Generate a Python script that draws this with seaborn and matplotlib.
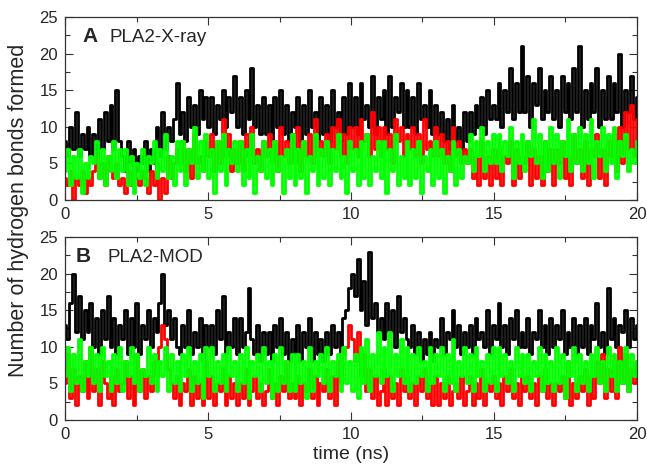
import numpy as np
import pandas as pd
import matplotlib
matplotlib.use("Agg")
import matplotlib.pyplot as plt
from matplotlib.ticker import MultipleLocator
import seaborn as sns

# hydrogen-bond counts, one value every 0.1 ns (10 per row = 1 ns)
xray_black = [
    8, 6, 10, 7, 12, 6, 9, 7, 10, 6,
    9, 6, 11, 7, 12, 8, 13, 7, 15, 8,
    6, 4, 8, 5, 7, 4, 6, 5, 8, 4,
    7, 5, 10, 6, 12, 7, 10, 8, 11, 16,
    9, 12, 8, 14, 10, 13, 9, 15, 11, 14,
    10, 14, 9, 13, 11, 15, 10, 14, 12, 17,
    10, 14, 9, 15, 11, 18, 10, 13, 9, 14,
    9, 13, 8, 14, 10, 15, 9, 13, 8, 12,
    10, 14, 8, 13, 9, 15, 10, 12, 8, 14,
    9, 13, 8, 15, 10, 12, 8, 14, 9, 16,
    10, 14, 9, 16, 11, 13, 10, 17, 9, 14,
    11, 15, 9, 17, 10, 14, 12, 16, 10, 15,
    10, 14, 9, 16, 11, 13, 10, 15, 9, 13,
    9, 12, 8, 11, 7, 13, 8, 10, 7, 12,
    8, 12, 9, 13, 10, 14, 9, 15, 11, 13,
    11, 16, 10, 15, 12, 18, 11, 16, 12, 21,
    12, 17, 10, 16, 13, 18, 11, 15, 12, 17,
    11, 15, 10, 17, 12, 16, 11, 18, 12, 21,
    10, 15, 11, 16, 12, 18, 10, 15, 11, 17,
    11, 16, 12, 20, 10, 15, 12, 17, 11, 14,
]
xray_red = [
    3, 2, 4, 0, 3, 2, 4, 1, 3, 2,
    4, 6, 3, 5, 2, 6, 4, 3, 5, 2,
    3, 1, 4, 2, 5, 3, 2, 4, 3, 1,
    4, 2, 5, 0, 3, 1, 6, 3, 5, 7,
    5, 8, 4, 7, 3, 9, 5, 6, 4, 8,
    6, 9, 4, 8, 5, 11, 6, 9, 4, 7,
    5, 8, 4, 9, 6, 10, 5, 7, 4, 8,
    6, 9, 5, 8, 4, 10, 6, 8, 5, 9,
    5, 10, 4, 8, 6, 9, 5, 11, 6, 8,
    6, 9, 5, 10, 7, 11, 6, 9, 5, 10,
    7, 10, 6, 11, 8, 9, 6, 12, 7, 10,
    6, 10, 7, 9, 5, 11, 8, 10, 6, 9,
    7, 10, 6, 9, 5, 11, 7, 8, 6, 10,
    6, 9, 5, 8, 4, 10, 6, 8, 5, 7,
    5, 7, 3, 6, 2, 8, 3, 6, 2, 7,
    3, 7, 2, 6, 5, 8, 2, 7, 3, 6,
    5, 8, 2, 7, 3, 6, 2, 8, 4, 7,
    2, 7, 5, 8, 3, 6, 2, 9, 5, 7,
    3, 8, 2, 7, 6, 9, 3, 7, 2, 8,
    6, 9, 4, 10, 5, 12, 7, 13, 6, 11,
]
xray_green = [
    4, 7, 2, 6, 3, 7, 1, 5, 3, 6,
    5, 8, 3, 7, 2, 6, 4, 8, 3, 7,
    4, 7, 2, 6, 1, 5, 3, 7, 2, 6,
    5, 8, 3, 7, 4, 9, 3, 6, 2, 8,
    4, 8, 2, 7, 5, 10, 3, 8, 4, 9,
    3, 7, 1, 8, 4, 9, 2, 7, 5, 8,
    4, 8, 2, 7, 3, 9, 1, 6, 4, 8,
    3, 7, 2, 8, 4, 6, 1, 7, 3, 9,
    2, 7, 3, 8, 1, 6, 4, 9, 2, 7,
    3, 8, 2, 7, 4, 9, 3, 6, 1, 8,
    4, 7, 2, 8, 3, 9, 2, 6, 4, 8,
    3, 8, 1, 7, 4, 9, 2, 6, 3, 8,
    2, 7, 3, 8, 1, 6, 4, 7, 2, 8,
    3, 7, 1, 6, 4, 8, 2, 7, 3, 6,
    5, 9, 4, 8, 6, 10, 4, 8, 5, 9,
    5, 9, 4, 8, 6, 10, 3, 8, 5, 9,
    4, 8, 6, 11, 5, 9, 3, 8, 4, 10,
    5, 9, 3, 8, 6, 11, 4, 9, 5, 10,
    4, 9, 5, 11, 3, 8, 6, 10, 4, 9,
    5, 10, 3, 8, 6, 9, 4, 7, 5, 8,
]

mod_black = [
    13, 11, 16, 20, 12, 17, 11, 15, 12, 16,
    10, 14, 9, 15, 11, 17, 10, 14, 9, 13,
    11, 15, 9, 14, 10, 16, 9, 13, 11, 15,
    10, 14, 12, 16, 20, 13, 15, 11, 14, 10,
    9, 13, 10, 15, 9, 12, 10, 14, 8, 13,
    10, 13, 9, 15, 11, 17, 9, 12, 10, 14,
    9, 14, 10, 12, 18, 11, 9, 13, 8, 12,
    9, 12, 8, 13, 10, 14, 9, 12, 8, 11,
    9, 13, 8, 12, 10, 14, 8, 12, 9, 11,
    8, 12, 9, 13, 10, 12, 9, 14, 15, 18,
    20, 17, 22, 15, 19, 13, 23, 14, 16, 12,
    14, 11, 16, 12, 15, 10, 17, 12, 14, 11,
    10, 13, 9, 12, 8, 11, 9, 12, 8, 11,
    10, 14, 9, 12, 11, 15, 10, 13, 9, 12,
    10, 13, 9, 14, 11, 12, 10, 15, 9, 13,
    11, 16, 10, 13, 9, 14, 11, 15, 10, 12,
    10, 14, 9, 12, 11, 15, 10, 13, 9, 14,
    10, 13, 11, 15, 9, 12, 10, 14, 9, 13,
    10, 14, 9, 13, 11, 16, 10, 12, 9, 18,
    11, 14, 10, 13, 12, 15, 10, 14, 11, 13,
]
mod_red = [
    5, 9, 3, 7, 2, 6, 4, 8, 3, 10,
    4, 7, 2, 8, 5, 3, 6, 2, 7, 4,
    5, 8, 3, 6, 2, 9, 4, 7, 3, 6,
    4, 8, 6, 10, 13, 11, 7, 5, 3, 6,
    2, 5, 4, 7, 2, 6, 3, 5, 2, 8,
    3, 6, 2, 5, 4, 7, 2, 6, 3, 5,
    2, 5, 3, 7, 2, 4, 6, 3, 5, 2,
    4, 7, 3, 5, 2, 6, 4, 8, 3, 5,
    3, 6, 2, 5, 4, 7, 3, 6, 2, 5,
    4, 7, 3, 6, 2, 8, 5, 9, 10, 13,
    11, 8, 12, 6, 9, 4, 7, 3, 6, 2,
    4, 7, 2, 6, 3, 5, 2, 7, 4, 6,
    3, 5, 2, 6, 4, 7, 3, 5, 2, 6,
    2, 5, 3, 6, 2, 4, 5, 3, 6, 2,
    4, 6, 2, 5, 3, 7, 2, 5, 4, 6,
    3, 5, 2, 6, 4, 7, 3, 5, 2, 6,
    4, 6, 3, 5, 2, 6, 4, 7, 3, 5,
    2, 5, 4, 6, 3, 8, 2, 5, 3, 6,
    4, 7, 2, 6, 3, 8, 5, 9, 3, 7,
    4, 8, 3, 10, 5, 9, 4, 7, 5, 8,
]
mod_green = [
    6, 10, 4, 9, 5, 11, 4, 8, 6, 10,
    5, 9, 4, 10, 6, 8, 4, 9, 5, 10,
    4, 8, 6, 10, 5, 9, 4, 7, 6, 10,
    5, 9, 4, 8, 6, 10, 4, 9, 5, 8,
    4, 9, 6, 10, 4, 8, 5, 9, 3, 10,
    6, 10, 4, 8, 5, 9, 4, 10, 6, 8,
    4, 9, 5, 10, 3, 8, 6, 9, 4, 10,
    5, 8, 3, 9, 4, 10, 5, 8, 4, 9,
    4, 9, 5, 8, 3, 10, 4, 8, 6, 9,
    5, 10, 4, 8, 6, 9, 4, 10, 5, 8,
    4, 9, 3, 10, 5, 11, 4, 9, 6, 12,
    5, 10, 6, 12, 4, 9, 6, 11, 5, 10,
    4, 9, 5, 10, 6, 8, 4, 10, 5, 9,
    6, 10, 4, 9, 5, 11, 4, 8, 6, 10,
    5, 9, 4, 10, 6, 8, 4, 9, 5, 10,
    4, 10, 6, 9, 5, 8, 4, 10, 6, 9,
    5, 9, 4, 8, 6, 10, 4, 9, 5, 8,
    4, 10, 5, 9, 3, 8, 6, 10, 4, 9,
    5, 8, 4, 9, 6, 10, 5, 8, 4, 10,
    6, 9, 4, 8, 5, 10, 4, 9, 6, 8,
]

panels = [
    ("A", "PLA2-X-ray", {"black": xray_black, "red": xray_red, "green": xray_green}),
    ("B", "PLA2-MOD", {"black": mod_black, "red": mod_red, "green": mod_green}),
]
palette = {"black": "#000000", "red": "#ff0000", "green": "#00ff00"}

sns.set_style("ticks")
plt.rcParams["font.family"] = ["Liberation Sans", "DejaVu Sans"]

fig = plt.figure(figsize=(6.47, 4.69), dpi=100)
ax_a = fig.add_axes([0.1005, 0.5736, 0.884, 0.3902])
ax_b = fig.add_axes([0.1005, 0.1045, 0.884, 0.3902])

for ax, (letter, name, series) in zip([ax_a, ax_b], panels):
    frames = []
    for key, vals in series.items():
        t = np.arange(len(vals)) * 20.0 / (len(vals) - 1)
        frames.append(pd.DataFrame({"time": t, "hbonds": vals, "set": key}))
    df = pd.concat(frames, ignore_index=True)
    sns.lineplot(
        data=df, x="time", y="hbonds", hue="set", hue_order=["black", "red", "green"],
        palette=palette, estimator=None, sort=False, drawstyle="steps-mid",
        linewidth=2.0, legend=False, ax=ax,
    )
    ax.set_xlim(0, 20)
    ax.set_ylim(0, 25)
    ax.xaxis.set_major_locator(MultipleLocator(5))
    ax.xaxis.set_minor_locator(MultipleLocator(2.5))
    ax.yaxis.set_major_locator(MultipleLocator(5))
    ax.yaxis.set_minor_locator(MultipleLocator(2.5))
    ax.tick_params(which="both", direction="in", top=True, right=True, labelsize=12, pad=5, color="#333333")
    ax.tick_params(which="major", length=6, width=0.8)
    ax.tick_params(which="minor", length=3.5, width=0.8)
    for sp in ax.spines.values():
        sp.set_linewidth(0.9)
        sp.set_color("#333333")
    ax.set_xlabel("")
    ax.set_ylabel("")
    ax.text(0.03 if letter == "A" else 0.019, 0.862, letter, transform=ax.transAxes,
            fontsize=15, fontweight="bold", va="baseline")
    ax.text(0.077 if letter == "A" else 0.075, 0.862, name, transform=ax.transAxes,
            fontsize=13.5, va="baseline")

fig.text(0.543, 0.021, "time (ns)", ha="center", va="baseline", fontsize=14)
fig.text(0.028, 0.552, "Number of hydrogen bonds formed", rotation=90,
         ha="center", va="center", fontsize=15.5)

fig.savefig("out.png", dpi=100)
